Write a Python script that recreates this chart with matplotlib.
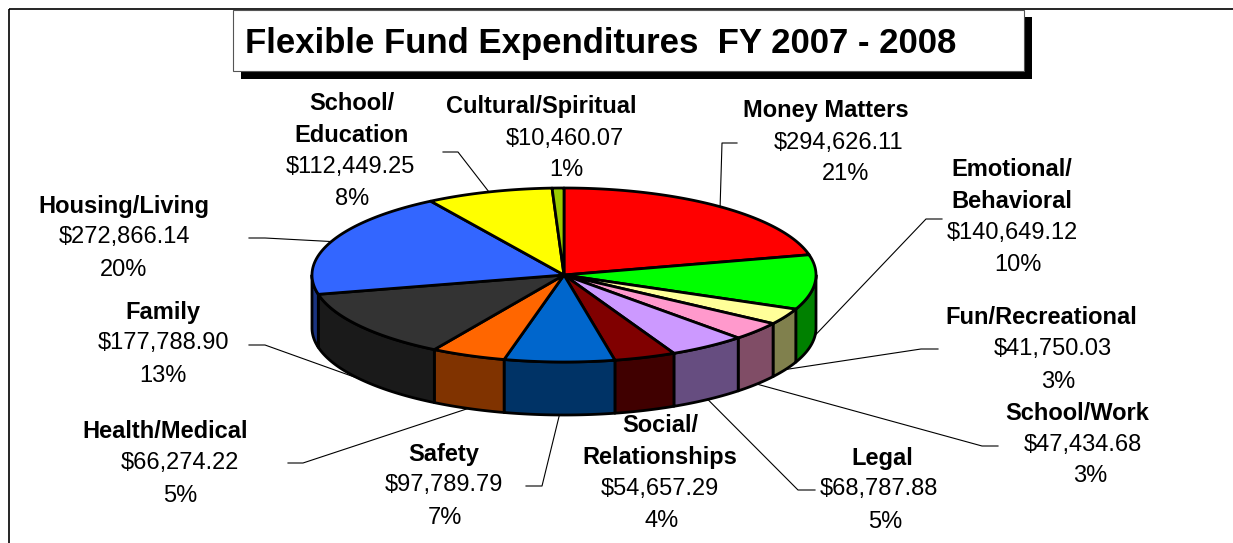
import numpy as np
import matplotlib.pyplot as plt
import matplotlib.patches as mpatches

plt.rcParams['font.family'] = ['Liberation Sans', 'DejaVu Sans']

# data (clockwise from 12 o'clock)
names = [['Money Matters'], ['Emotional/', 'Behavioral'], ['Fun/Recreational'],
         ['School/Work'], ['Legal'], ['Social/', 'Relationships'], ['Safety'],
         ['Health/Medical'], ['Family'], ['Housing/Living'], ['School/', 'Education'],
         ['Cultural/Spiritual']]
amounts = [294626.11, 140649.12, 41750.03, 47434.68, 68787.88, 54657.29,
           97789.79, 66274.22, 177788.90, 272866.14, 112449.25, 10460.07]
pcts = ['21%', '10%', '3%', '3%', '5%', '4%', '7%', '5%', '13%', '20%', '8%', '1%']
colors = ['#FF0000', '#00FF00', '#FFFF99', '#FF99CC', '#CC99FF', '#800000',
          '#0066CC', '#FF6600', '#333333', '#3366FF', '#FFFF00', '#99CC00']

# label layout: (name x, amount x, percent x, first line y)
label_pos = [(826, 839, 846, 111), (1012, 1012, 1018, 170), (1041, 1053, 1058, 318),
             (1077, 1083, 1090, 413), (882, 879, 885, 458), (660, 660, 662, 426),
             (444, 444, 445, 454), (165, 180, 180, 432), (163, 163, 163, 312),
             (124, 124, 124, 206), (352, 350, 352, 104), (541, 565, 566, 107)]
# leader stubs: (label end x, elbow x, y) or None
stubs = [(737, 722, 143), (942, 926, 219), (938, 921, 349), (998, 982, 446),
         (815, 798, 490), None, (526, 542, 486), (288, 303, 463),
         (249, 265, 345), (249, 265, 238), (443, 458, 152), None]

W, H = 1233, 543
fig = plt.figure(figsize=(W / 100, H / 100), dpi=100)
ax = fig.add_axes([0, 0, 1, 1])
ax.set_xlim(0, W)
ax.set_ylim(H, 0)
ax.axis('off')

# frame
ax.add_patch(mpatches.Rectangle((9, 9), W + 20, H + 20, fill=False, ec='black', lw=1.2))

# title box with shadow
ax.add_patch(mpatches.Rectangle((241, 17), 791, 62, fc='black', ec='none'))
ax.add_patch(mpatches.Rectangle((233, 10), 791, 61, fc='white', ec='#555555', lw=0.8))
ax.text(245, 44, 'Flexible Fund Expenditures  FY 2007 - 2008', fontsize=25,
        fontweight='bold', ha='left', va='center')

# 3d pie
cx, cy, ra, rb, depth = 564, 275, 252, 87, 53
vals = np.array(amounts)
edges = np.concatenate([[0], np.cumsum(vals) / vals.sum() * 360])


def rim(t, drop=0):
    t = np.radians(t)
    return cx + ra * np.sin(t), cy - rb * np.cos(t) + drop


def darker(c):
    r, g, b = [int(c[i:i + 2], 16) / 255 for i in (1, 3, 5)]
    return (r * 0.5, g * 0.5, b * 0.5)


for i, col in enumerate(colors):
    lo, hi = max(edges[i], 90), min(edges[i + 1], 270)
    if hi > lo:
        ts = np.linspace(lo, hi, 80)
        xt, yt = rim(ts)
        xb, yb = rim(ts[::-1], depth)
        pts = np.column_stack([np.concatenate([xt, xb]), np.concatenate([yt, yb])])
        ax.add_patch(mpatches.Polygon(pts, closed=True, fc=darker(col), ec='black',
                                      lw=2, joinstyle='round'))

for i, col in enumerate(colors):
    ts = np.linspace(edges[i], edges[i + 1], 120)
    xt, yt = rim(ts)
    pts = np.column_stack([np.concatenate([[cx], xt]), np.concatenate([[cy], yt])])
    ax.add_patch(mpatches.Polygon(pts, closed=True, fc=col, ec='black', lw=2,
                                  joinstyle='round'))

# labels
for i in range(len(amounts)):
    nx, vx, px_, y0 = label_pos[i]
    y = y0
    for line in names[i]:
        ax.text(nx, y, line, fontsize=17, fontweight='bold', ha='center', va='center')
        y += 31.5
    ax.text(vx, y, f'\\${amounts[i]:,.2f}', fontsize=17, ha='center', va='center')
    ax.text(px_, y + 32, pcts[i], fontsize=17, ha='center', va='center')

    if stubs[i] is not None:
        mid = (edges[i] + edges[i + 1]) / 2
        front = 90 < mid < 270
        px, py = rim(mid, depth if front else 0)
        x0, xe, sy = stubs[i]
        ax.plot([x0, xe, px], [sy, sy, py], color='black', lw=0.8)

fig.savefig('out.png', dpi=100)
